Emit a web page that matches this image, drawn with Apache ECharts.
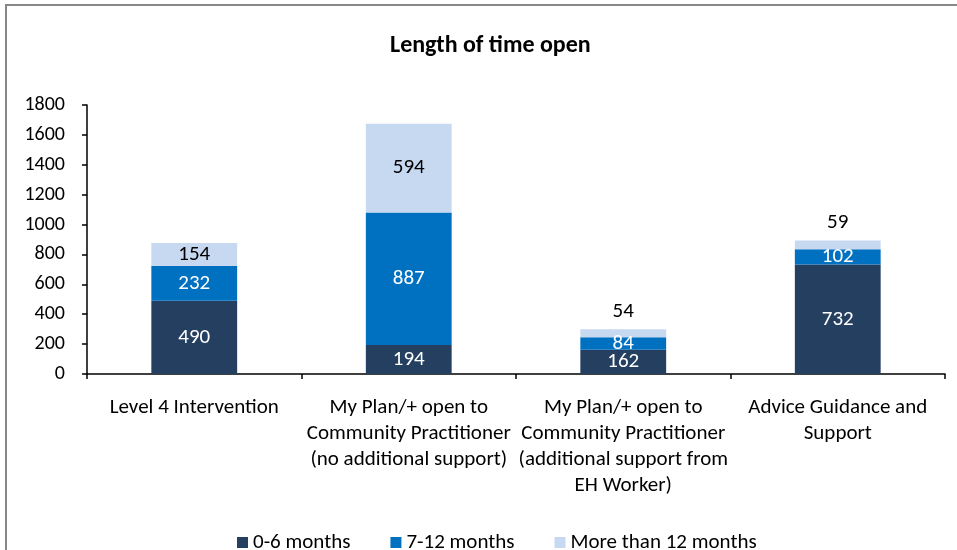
<!DOCTYPE html>
<html>
<head>
<meta charset="utf-8">
<script src="https://cdn.jsdelivr.net/npm/echarts@6/dist/echarts.min.js"></script>
<style>
    html, body {margin: 0; padding: 0; background: #fff;}
    #chart {width: 957px; height: 550px;}
</style>
</head>
<body>
<div id="chart"></div>
<script>
// 类别
var categories = [
    'Level 4 Intervention',
    'My Plan/+ open to\nCommunity Practitioner\n(no additional support)',
    'My Plan/+ open to\nCommunity Practitioner\n(additional support from\nEH Worker)',
    'Advice Guidance and\nSupport'
];
var seriesNames = ['0-6 months', '7-12 months', 'More than 12 months'];
var months0to6 = [490, 194, 162, 732];
var months7to12 = [232, 887, 84, 102];
var monthsOver12 = [154, 594, 54, 59];
// 标签放在柱子上方的类别 (第三个系列)
var labelAbove = [false, false, true, true];
var yTicks = {min: 0, max: 1800, interval: 200};

var fontFamily = "Carlito, 'Liberation Sans', sans-serif";
var colors = ['#243F60', '#0070C0', '#C6D9F1'];

var myChart = echarts.init(document.querySelector('#chart'));

function buildOver12() {
    return monthsOver12.map(function (v, i) {
        if (labelAbove[i]) {
            return {value: v, label: {position: 'top', distance: 7}};
        }
        return v;
    });
}

myChart.setOption({
    animation: false,
    textStyle: {fontFamily: fontFamily, color: '#000'},
    color: colors,
    graphic: [{
        type: 'rect',
        shape: {x: 6, y: 5, width: 1000, height: 600},
        style: {fill: 'none', stroke: '#888', lineWidth: 2},
        z: -1
    }],
    title: {
        text: 'Length of time open',
        left: 385,
        top: 29,
        textStyle: {fontFamily: fontFamily, fontSize: 24, fontWeight: 'bold', color: '#000'}
    },
    legend: {
        top: 527,
        left: 232,
        itemWidth: 11,
        itemHeight: 11,
        itemGap: 40,
        icon: 'rect',
        textStyle: {fontFamily: fontFamily, fontSize: 21, color: '#000'},
        data: seriesNames
    },
    grid: {left: 87, right: 12, top: 105, bottom: 176},
    xAxis: {
        type: 'category',
        data: categories,
        axisLine: {lineStyle: {color: '#000', width: 1.5}},
        axisTick: {show: true, length: 5, lineStyle: {color: '#000', width: 1.5}},
        axisLabel: {color: '#000', fontSize: 21, lineHeight: 26, margin: 21, interval: 0}
    },
    yAxis: {
        type: 'value',
        min: yTicks.min,
        max: yTicks.max,
        interval: yTicks.interval,
        splitLine: {show: false},
        axisLine: {show: true, lineStyle: {color: '#000', width: 1.5}},
        axisTick: {show: true, length: 5, lineStyle: {color: '#000', width: 1.5}},
        axisLabel: {color: '#000', fontSize: 20, margin: 22, formatter: function (v) { return String(v); }}
    },
    series: [{
        name: seriesNames[0],
        type: 'bar',
        stack: 'total',
        barWidth: '40%',
        data: months0to6,
        label: {show: true, position: 'inside', color: '#fff', fontSize: 21, fontFamily: fontFamily}
    }, {
        name: seriesNames[1],
        type: 'bar',
        stack: 'total',
        data: months7to12,
        label: {show: true, position: 'inside', color: '#fff', fontSize: 21, fontFamily: fontFamily}
    }, {
        name: seriesNames[2],
        type: 'bar',
        stack: 'total',
        data: buildOver12(),
        label: {show: true, position: 'inside', color: '#000', fontSize: 21, fontFamily: fontFamily}
    }]
});
</script>
</body>
</html>
